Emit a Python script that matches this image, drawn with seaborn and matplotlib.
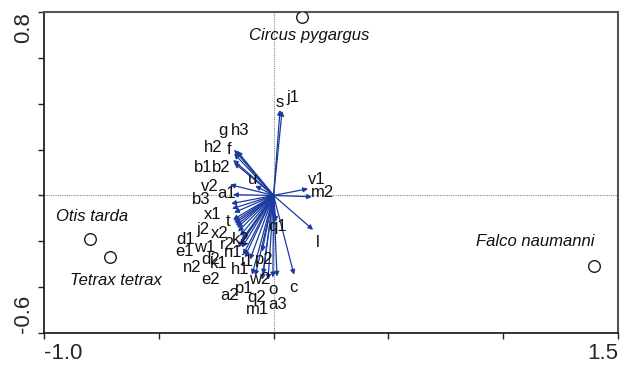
import numpy as np
import pandas as pd
import matplotlib
matplotlib.use("Agg")
import matplotlib.pyplot as plt
import seaborn as sns

# --- dados (escores do biplot) ---
var_names = ["s", "j1", "g", "h3", "h2", "f", "b1", "b2", "u", "v2", "a1", "b3",
             "v1", "m2", "x1", "t", "j2", "x2", "d1", "e1", "w1", "r2", "k2", "n1",
             "d2", "k1", "n2", "h1", "i1", "e2", "p2", "a2", "p1", "w2", "q2", "m1",
             "o", "a3", "c", "q1", "l"]
var_x = [0.028, 0.037, -0.172, -0.159, -0.172, -0.168, -0.176, -0.172, -0.080, -0.190, -0.177, -0.185,
         0.150, 0.167, -0.181, -0.172, -0.177, -0.168, -0.172, -0.164, -0.159, -0.155, -0.146, -0.138,
         -0.146, -0.138, -0.155, -0.125, -0.103, -0.133, -0.050, -0.094, -0.080, -0.046, -0.050, -0.024,
         -0.003, 0.015, 0.089, 0.010, 0.172]
var_y = [0.373, 0.369, 0.199, 0.194, 0.182, 0.195, 0.155, 0.142, 0.042, 0.047, 0.003, -0.036,
         0.029, -0.006, -0.058, -0.075, -0.106, -0.123, -0.115, -0.132, -0.141, -0.158, -0.176, -0.193,
         -0.215, -0.228, -0.228, -0.267, -0.280, -0.259, -0.245, -0.346, -0.351, -0.345, -0.368, -0.368,
         -0.358, -0.354, -0.346, -0.115, -0.150]

species = ["Circus pygargus", "Otis tarda", "Tetrax tetrax", "Falco naumanni"]
sp_x = [0.122, -0.800, -0.712, 1.397]
sp_y = [0.777, -0.190, -0.268, -0.309]

# deslocamento dos rótulos (pixels)
var_off = [(0, 7), (11, 13), (-11, 19), (3, 20), (-21, 6), (-6, 1), (-30, -8), (-13, -5),
           (-3, 6), (-20, -2), (-6, 1), (-30, 4), (9, 9), (11, 4), (-19, -6), (-6, -9),
           (-30, -10), (-15, -10), (-49, -18), (-51, -26), (-32, -20), (-11, -13), (1, -4),
           (-9, -13), (-29, -15), (-23, -16), (-46, -20), (-5, -13), (-3, -2), (-33, -25),
           (2, -8), (-22, -21), (-11, -13), (-3, -5), (-5, -18), (-11, -30), (0, -12),
           (1, -28), (-1, -13), (2, -5), (5, -13)]
sp_off = [(8, -18), (2, 22), (6, -24), (-59, 25)]

ARROW = "#1a3ca0"

sns.set_style("white")
plt.rcParams['font.family'] = ['Liberation Sans', 'DejaVu Sans']

fig = plt.figure(figsize=(6.27, 3.65), dpi=100)
ax = fig.add_axes([44 / 627, 32 / 365, 574 / 627, 321 / 365])
ax.set_xlim(-1.0, 1.5)
ax.set_ylim(-0.6, 0.8)

ax.axhline(0, color="#888888", ls=(0, (1, 1)), lw=0.8, zorder=1)
ax.axvline(0, color="#888888", ls=(0, (1, 1)), lw=0.8, zorder=1)

px = 0.72  # pontos por pixel a 100 dpi
for name, x, y, (dx, dy) in zip(var_names, var_x, var_y, var_off):
    ax.annotate("", xy=(x, y), xytext=(0, 0),
                arrowprops=dict(arrowstyle="-|>", color=ARROW, lw=0.9,
                                mutation_scale=7, shrinkA=0, shrinkB=0), zorder=3)
    ax.annotate(name, xy=(x, y), xytext=(dx * px, dy * px), textcoords="offset points",
                ha="center", va="center", fontsize=12, color="#111111", zorder=4)

df_sp = pd.DataFrame({"x": sp_x, "y": sp_y, "sp": species})
sns.scatterplot(data=df_sp, x="x", y="y", ax=ax, s=70, marker="o",
                facecolor="white", edgecolor="#1a1a2a", linewidth=1.0, zorder=5, legend=False)
for name, x, y, (dx, dy) in zip(species, sp_x, sp_y, sp_off):
    ax.annotate(name, xy=(x, y), xytext=(dx * px, dy * px), textcoords="offset points",
                ha="center", va="center", fontsize=12, style="italic", color="#111111")

ax.set_xlabel("")
ax.set_ylabel("")
xt = [-1.0, -0.5, 0.0, 0.5, 1.0, 1.5]
ax.set_xticks(xt)
ax.set_xticklabels(["-1.0", "", "", "", "", "1.5"], fontsize=16)
xl = ax.get_xticklabels()
xl[0].set_ha("left")
xl[-1].set_ha("right")
yt = [-0.6, -0.4, -0.2, 0.0, 0.2, 0.4, 0.6, 0.8]
ax.set_yticks(yt)
ax.set_yticklabels(["-0.6", "", "", "", "", "", "", "0.8"], fontsize=16, rotation=90)
yl = ax.get_yticklabels()
yl[0].set_va("bottom")
yl[-1].set_va("top")
ax.tick_params(axis="both", direction="out", length=4, width=1, color="#222222", pad=3,
               bottom=True, left=True)
for side in ["left", "bottom"]:
    ax.spines[side].set_color("#111111")
    ax.spines[side].set_linewidth(1.2)
for side in ["top", "right"]:
    ax.spines[side].set_color("#555555")
    ax.spines[side].set_linewidth(1.5)

fig.savefig("out.png", dpi=100)
